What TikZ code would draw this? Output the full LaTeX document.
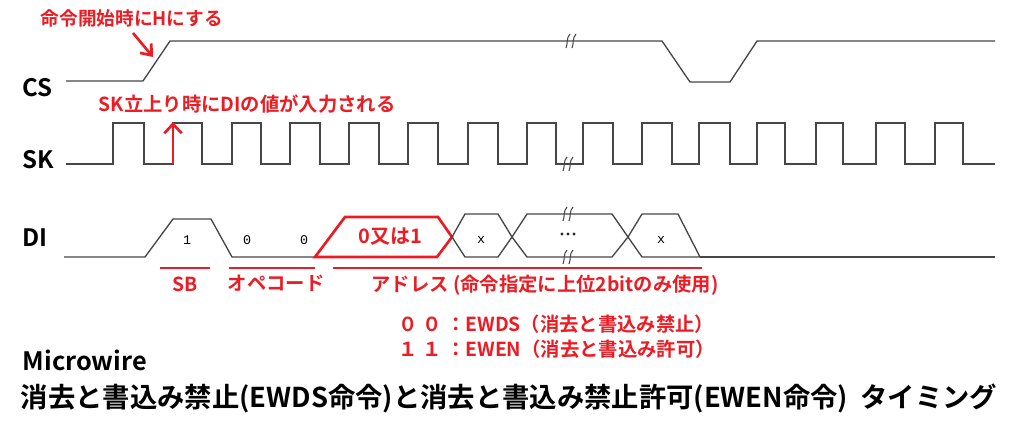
\documentclass[tikz,border=0pt]{standalone}
\usepackage{fontspec}
\setmainfont{Noto Sans CJK JP}[BoldFont={Noto Sans CJK JP Bold}]
\newfontfamily\jp{Noto Sans CJK JP Bold}
\newfontfamily\mono{Liberation Mono}
\usetikzlibrary{arrows.meta}
\definecolor{rd}{RGB}{235,28,36}
\definecolor{gr}{RGB}{70,70,70}
\begin{document}
\begin{tikzpicture}[x=0.75pt,y=-0.75pt,
  wave/.style={gr,line width=1pt},
  redw/.style={rd,line width=2pt},
  sig/.style={font=\jp\fontsize{18}{20}\selectfont,anchor=west},
  rlab/.style={rd,font=\jp\fontsize{14.5}{16}\selectfont},
  val/.style={font=\mono\fontsize{10}{11}\selectfont},
  brk/.style={gr,line width=0.8pt}]
\useasboundingbox (0,0) rectangle (1024,422);
% labels
\node[sig] (cs) at (18,88) {CS};
\node[sig] (sk) at (18,160) {SK};
\node[sig] (di) at (18,238) {DI};
% CS
\draw[wave] (66,81) -- (143,81) -- (170,41) -- (662,41) -- (690,82) -- (730,82) -- (757,41) -- (995,41);
\draw[brk] (566,48) .. controls (568,44) and (566,38) .. (570,34);
\draw[brk] (572,48) .. controls (574,44) and (572,38) .. (576,34);
% SK
\draw[wave] (66,164) -- (113,164) -- (113,123)
  \foreach \a/\b in {144/173,202/232,261/290,320/349,379/408,438/468,498/527,556/583,613/642,672/699,730/757,785/816,843/876,905/935}{ -- (\a,123) -- (\a,164) -- (\b,164) -- (\b,123)}
  -- (963,123) -- (963,164) -- (995,164);
\draw[brk] (563,171) .. controls (565,167) and (563,161) .. (567,157);
\draw[brk] (569,171) .. controls (571,167) and (569,161) .. (573,157);
% DI
\draw[wave] (64,257) -- (145,257) -- (173,219) -- (211,219) -- (232,257) -- (315,257);
\node[val] (v1) at (187,240) {1};
\node[val] (v2) at (247,240) {0};
\node[val] (v3) at (304,240) {0};
\draw[redw] (315,257) -- (345,217) -- (438,217) -- (452,237) -- (437,257) -- cycle;
\node[rd,font=\jp\fontsize{15}{16}\selectfont] (v4) at (390,237) {0又は1};
\draw[wave] (452,237) -- (465,214) -- (498,214) -- (512,237) -- (498,257) -- (465,257) -- cycle;
\node[val] (v5) at (481,240) {x};
\draw[wave] (512,237) -- (527,214) -- (612,214) -- (628,237) -- (612,257) -- (527,257) -- cycle;
\foreach \dx in {-6,0,6} \fill[black!85] (568+\dx,234) circle (1.7);
\draw[wave] (628,237) -- (642,214) -- (678,214) -- (700,257) -- (642,257) -- cycle;
\draw[wave] (700,257) -- (995,257);
\node[val] (v7) at (661,240) {x};
\foreach \yy in {214,257}{
 \draw[brk] (563,\yy+7) .. controls (565,\yy+3) and (563,\yy-3) .. (567,\yy-7);
 \draw[brk] (569,\yy+7) .. controls (571,\yy+3) and (569,\yy-3) .. (573,\yy-7);}
% underlines
\draw[redw] (160,268) -- (210,268);
\draw[redw] (229,268) -- (315,268);
\draw[redw] (333,268) -- (702,268);
\node[rlab] (sb) at (185,284) {SB};
\node[rlab] (op) at (276,283) {オペコード};
\node[rlab] (ad) at (545,285) {アドレス (命令指定に上位2bitのみ使用)};
\node[rlab,anchor=west] (e1) at (394,324) {０ ０ ：EWDS（消去と書込み禁止）};
\node[rlab,anchor=west] (e2) at (394,349) {１ １ ：EWEN（消去と書込み許可）};
% annotations
\node[rlab,anchor=west,font=\jp\fontsize{14}{15}\selectfont] (a1) at (36,18) {命令開始時にHにする};
\coordinate (a1s) at (133,33);
\coordinate (a1e) at (153,57);
\draw[rd,line width=2pt,-{Straight Barb[length=7pt,width=11pt]}] (a1s) -- (a1e);
\node[rlab,anchor=west] (a2) at (94,104) {SK立上り時にDIの値が入力される};
\coordinate (a2s) at (173,164);
\coordinate (a2e) at (173,122);
\draw[rd,line width=2pt,-{Straight Barb[length=7pt,width=13pt]}] (a2s) -- (a2e);
% titles
\node[sig,font=\jp\fontsize{19}{21}\selectfont] (t1) at (18,360) {Microwire};
\node[sig,font=\jp\fontsize{20.5}{22}\selectfont] (t2) at (16,398) {消去と書込み禁止(EWDS命令)と消去と書込み禁止許可(EWEN命令)\ \ タイミング};
\end{tikzpicture}
\end{document}
